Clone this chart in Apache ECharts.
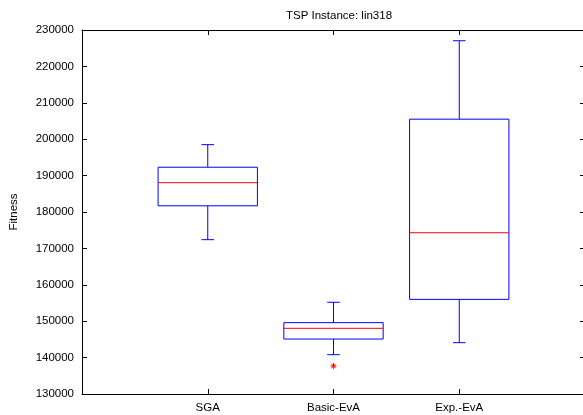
<!DOCTYPE html>
<html>
<head>
<meta charset="utf-8">
<script src="https://cdn.jsdelivr.net/npm/echarts@6/dist/echarts.min.js"></script>
<style>
  html, body { margin: 0; padding: 0; background: #fff; }
  #chart { width: 583px; height: 415px; }
</style>
</head>
<body>
<div id="chart"></div>
<script>
// ---- data ----
const categories = ['SGA', 'Basic-EvA', 'Exp.-EvA'];
const whiskerLow  = [172400, 140800, 144100];
const q1Values    = [181700, 145100, 156000];
const medians     = [188050, 148050, 174300];
const q3Values    = [192300, 149600, 205500];
const whiskerHigh = [198500, 155200, 227050];
const outlierCategories = ['Basic-EvA'];
const outlierValues     = [137700];
const yMin = 130000, yMax = 230000, yStep = 10000;

// ---- build ----
const axisCats = [''].concat(categories, ['']);
const boxData = categories.map((c, i) => [axisCats.indexOf(c), whiskerLow[i], q1Values[i], medians[i], q3Values[i], whiskerHigh[i]]);
const outlierData = outlierCategories.map((c, i) => [axisCats.indexOf(c), outlierValues[i]]);

const FONT = '"Liberation Sans", Arial, Helvetica, sans-serif';
const BLUE = '#0000ff', RED = '#ff0000';

const chart = echarts.init(document.getElementById('chart'), null, { renderer: 'canvas' });

const baseX = {
  type: 'category', data: axisCats, boundaryGap: false,
  axisLine: { show: true, lineStyle: { color: '#000', width: 1 } },
  axisTick: { show: true, inside: true, length: 5, lineStyle: { color: '#000' }, alignWithLabel: true },
  splitLine: { show: false }
};
const baseY = {
  type: 'value', min: yMin, max: yMax, interval: yStep,
  axisLine: { show: true, lineStyle: { color: '#000', width: 1 } },
  axisTick: { show: true, inside: true, length: 5, lineStyle: { color: '#000' } },
  splitLine: { show: false }
};

chart.setOption({
  animation: false,
  backgroundColor: '#fff',
  title: {
    text: 'TSP Instance: lin318', left: 334, top: 5, textAlign: 'center',
    textStyle: { fontFamily: FONT, fontSize: 11.5, fontWeight: 'normal', color: '#000' }
  },
  grid: { left: 82, width: 503, top: 30, bottom: 21, containLabel: false, outerBoundsMode: 'none' },
  xAxis: [
    Object.assign({}, baseX, { position: 'bottom',
      axisLabel: { show: true, margin: 8, fontFamily: FONT, fontSize: 11.5, color: '#000', interval: 0 } }),
    Object.assign({}, baseX, { position: 'top', axisLabel: { show: false } })
  ],
  yAxis: [
    Object.assign({}, baseY, { position: 'left',
      name: 'Fitness', nameLocation: 'middle', nameGap: 62, nameRotate: 90,
      nameTextStyle: { fontFamily: FONT, fontSize: 11.5, color: '#000' },
      axisLabel: { show: true, margin: 8, fontFamily: FONT, fontSize: 11.5, color: '#000', formatter: v => String(v) } }),
    Object.assign({}, baseY, { position: 'right', axisLabel: { show: false } })
  ],
  series: [
    {
      type: 'custom', xAxisIndex: 0, yAxisIndex: 0,
      encode: { x: 0, y: [1, 2, 3, 4, 5] },
      data: boxData,
      renderItem: function (params, api) {
        const x = api.value(0);
        const lo = api.coord([x, api.value(1)]);
        const q1 = api.coord([x, api.value(2)]);
        const md = api.coord([x, api.value(3)]);
        const q3 = api.coord([x, api.value(4)]);
        const hi = api.coord([x, api.value(5)]);
        const band = api.size([1, 0])[0];
        const hw = band * 0.395, cw = band * 0.05;
        const cx = lo[0];
        const s = { stroke: BLUE, lineWidth: 1, fill: null };
        return {
          type: 'group',
          children: [
            { type: 'line', shape: { x1: cx, y1: q3[1], x2: cx, y2: hi[1] }, style: s },
            { type: 'line', shape: { x1: cx, y1: q1[1], x2: cx, y2: lo[1] }, style: s },
            { type: 'line', shape: { x1: cx - cw, y1: hi[1], x2: cx + cw, y2: hi[1] }, style: s },
            { type: 'line', shape: { x1: cx - cw, y1: lo[1], x2: cx + cw, y2: lo[1] }, style: s },
            { type: 'rect', shape: { x: cx - hw, y: q3[1], width: 2 * hw, height: q1[1] - q3[1] }, style: { stroke: BLUE, lineWidth: 1, fill: 'none' } },
            { type: 'line', shape: { x1: cx - hw, y1: md[1], x2: cx + hw, y2: md[1] }, style: { stroke: RED, lineWidth: 1 } }
          ]
        };
      }
    },
    {
      type: 'custom', xAxisIndex: 0, yAxisIndex: 0,
      encode: { x: 0, y: 1 },
      data: outlierData,
      renderItem: function (params, api) {
        const p = api.coord([api.value(0), api.value(1)]);
        const r = 3, d = 2.2;
        const s = { stroke: RED, lineWidth: 1 };
        return {
          type: 'group',
          children: [
            { type: 'line', shape: { x1: p[0] - r, y1: p[1], x2: p[0] + r, y2: p[1] }, style: s },
            { type: 'line', shape: { x1: p[0], y1: p[1] - r, x2: p[0], y2: p[1] + r }, style: s },
            { type: 'line', shape: { x1: p[0] - d, y1: p[1] - d, x2: p[0] + d, y2: p[1] + d }, style: s },
            { type: 'line', shape: { x1: p[0] - d, y1: p[1] + d, x2: p[0] + d, y2: p[1] - d }, style: s }
          ]
        };
      }
    }
  ]
});
</script>
</body>
</html>
